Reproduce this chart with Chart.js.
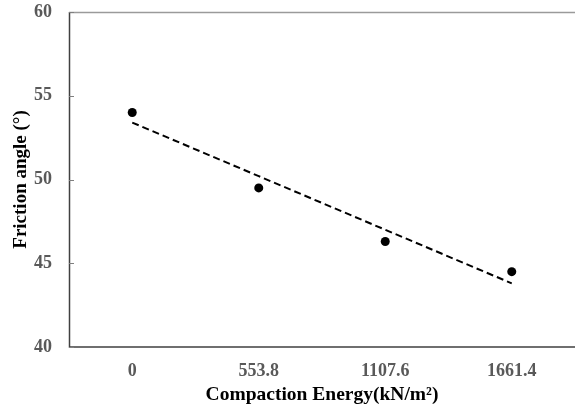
<!DOCTYPE html>
<html>
<head>
<meta charset="utf-8">
<script src="https://cdn.jsdelivr.net/npm/chart.js@4"></script>
<style>
html,body{margin:0;padding:0;background:#fff;}
#wrap{width:575px;height:408px;position:relative;}
</style>
</head>
<body>
<div id="wrap"><canvas id="c" width="575" height="408"></canvas></div>
<script>
const categories = ['0', '553.8', '1107.6', '1661.4'];
const frictionAngle = [54.0, 49.5, 46.3, 44.5];
const trendLine = [53.4, 50.2, 47.0, 43.8];
const yTicks = [40, 45, 50, 55, 60];

const framePlugin = {
  id: 'frame',
  afterDatasetsDraw(chart) {
    const {ctx, chartArea: a, scales} = chart;
    ctx.save();
    ctx.strokeStyle = '#9a9a9a';
    ctx.lineWidth = 1.5;
    ctx.beginPath();
    ctx.moveTo(a.left, a.top + 0.5);
    ctx.lineTo(chart.width, a.top + 0.5);
    ctx.stroke();
    ctx.strokeStyle = '#404040';
    ctx.lineWidth = 1.5;
    ctx.beginPath();
    ctx.moveTo(a.left + 0.5, a.top);
    ctx.lineTo(a.left + 0.5, a.bottom);
    ctx.lineTo(chart.width, a.bottom);
    ctx.stroke();
    ctx.strokeStyle = '#7f7f7f';
    ctx.lineWidth = 1;
    yTicks.forEach(v => {
      const y = Math.round(scales.y.getPixelForValue(v)) + 0.5;
      ctx.beginPath();
      ctx.moveTo(a.left, y);
      ctx.lineTo(a.left + 5, y);
      ctx.stroke();
    });
    ctx.restore();
  }
};

new Chart(document.getElementById('c'), {
  type: 'line',
  data: {
    labels: categories,
    datasets: [
      {
        label: 'Trend',
        data: trendLine,
        borderColor: '#000',
        borderWidth: 2,
        borderDash: [7, 4],
        pointRadius: 0,
        fill: false,
        tension: 0
      },
      {
        label: 'Friction angle',
        data: frictionAngle,
        showLine: false,
        pointRadius: 4.5,
        pointBackgroundColor: '#000',
        pointBorderColor: '#000',
        pointBorderWidth: 0
      }
    ]
  },
  options: {
    responsive: false,
    animation: false,
    layout: {autoPadding: false, padding: {top: 12, right: -2, left: 0, bottom: 0}},
    plugins: {legend: {display: false}, tooltip: {enabled: false}},
    scales: {
      x: {
        type: 'category',
        offset: true,
        grid: {display: false, drawTicks: false},
        border: {display: false},
        ticks: {
          color: '#595959',
          padding: 14,
          font: {family: 'Liberation Serif', size: 18, weight: 'bold'}
        },
        title: {
          display: true,
          text: 'Compaction Energy(kN/m²)',
          color: '#000',
          padding: {top: 0, bottom: 1},
          font: {family: 'Liberation Serif', size: 19.5, weight: 'bold'}
        },
        afterFit(scale) { scale.height = 61; scale.paddingLeft = 0; scale.paddingRight = 0; }
      },
      y: {
        min: 40,
        max: 60,
        afterBuildTicks(scale) { scale.ticks = yTicks.map(v => ({value: v})); },
        grid: {display: false, drawTicks: false},
        border: {display: false},
        ticks: {
          color: '#595959',
          padding: 17,
          font: {family: 'Liberation Serif', size: 18, weight: 'bold'}
        },
        title: {
          display: true,
          text: 'Friction angle (°)',
          color: '#000',
          padding: {top: 10, bottom: 0},
          font: {family: 'Liberation Serif', size: 19, weight: 'bold'}
        },
        afterFit(scale) { scale.width = 69; scale.paddingTop = 0; scale.paddingBottom = 0; }
      }
    }
  },
  plugins: [framePlugin]
});
</script>
</body>
</html>
